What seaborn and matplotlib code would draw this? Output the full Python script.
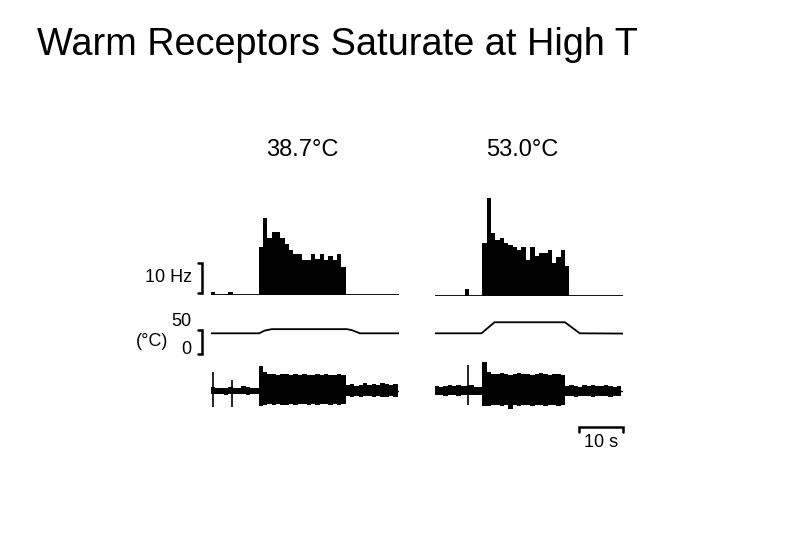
import numpy as np
import pandas as pd
import matplotlib
matplotlib.use("Agg")
import matplotlib.pyplot as plt
import seaborn as sns

sns.set_style("white")
plt.rcParams['font.family'] = ['Liberation Sans', 'DejaVu Sans']
plt.rcParams['text.color'] = 'black'

# ---- data ----
stim_labels = ["38.7°C", "53.0°C"]
duration = 43.3  # s shown per panel

# firing rate histograms, 1 s bins (Hz)
pre_bins_left = [0, 4]
pre_rates_left = [1.1, 1.1]
main_start_left = 11
rates_left = [15.9, 25.6, 18.9, 21.1, 21.1, 18.9, 17.0, 15.0, 13.7, 13.7,
              11.8, 11.8, 13.7, 12.0, 13.7, 11.8, 12.9, 11.8, 13.7, 9.4]

pre_bins_right = [7]
pre_rates_right = [2.2]
main_start_right = 11
rates_right = [17.6, 32.6, 20.9, 18.7, 19.4, 17.6, 17.0, 16.2, 15.3, 16.2,
               12.0, 16.2, 13.3, 14.2, 14.2, 15.3, 11.1, 13.1, 15.3, 10.0]

# skin temperature (°C)
temp_t_left = [0, 11.1, 12.3, 14.0, 31.3, 32.5, 34.3, 43.3]
temp_left = [30, 30, 35.5, 38.7, 38.7, 36.5, 30, 30]
temp_t_right = [0, 10.8, 13.8, 30.0, 33.4, 43.3]
temp_right = [30, 30, 53.0, 53.0, 30, 29.5]

# nerve recording envelope, one value per second (arbitrary units)
trace_up_left = [4, 3, 3, 3, 4, 3, 3, 5, 4, 3, 3,
                 25, 19, 17, 17, 16, 17, 17, 16, 17, 16, 17, 16, 16, 17, 16, 17, 16, 16, 17, 16,
                 6, 7, 5, 6, 8, 6, 7, 6, 8, 7, 6, 7, 7]
trace_lo_left = [3, 3, 3, 4, 3, 3, 3, 3, 4, 3, 3,
                 15, 14, 13, 14, 13, 14, 14, 13, 14, 13, 13, 14, 13, 14, 13, 13, 14, 13, 14, 13,
                 5, 6, 5, 6, 5, 5, 6, 5, 6, 6, 5, 6, 6]
spike_t_left = [0.5, 4.8]
spike_up_left = [19, 11]
spike_lo_left = [16, 16]

trace_up_right = [5, 4, 5, 6, 5, 6, 5, 5, 6, 4, 4,
                  29, 19, 17, 17, 18, 17, 16, 17, 18, 17, 17, 16, 17, 18, 17, 16, 17, 17, 16,
                  5, 6, 5, 4, 6, 5, 6, 5, 5, 6, 5, 4, 5, 5]
trace_lo_right = [4, 4, 5, 4, 4, 5, 4, 4, 4, 4, 4,
                  15, 15, 14, 14, 15, 14, 18, 14, 15, 14, 14, 15, 14, 14, 15, 14, 14, 15, 14,
                  5, 5, 6, 5, 5, 5, 6, 5, 5, 5, 6, 5, 5, 5]
spike_t_right = [7.6]
spike_up_right = [26]
spike_lo_right = [14]

# scale bars
rate_bar = 10   # Hz
temp_bar = 50   # °C
time_bar = 10   # s

# ---- layout helpers (pixel boxes on an 810x540 canvas) ----
W, H = 810, 540
fig = plt.figure(figsize=(W / 100, H / 100), dpi=100)


def px_axes(x0, y0, x1, y1):
    ax = fig.add_axes([x0 / W, 1 - y1 / H, (x1 - x0) / W, (y1 - y0) / H])
    ax.set_axis_off()
    return ax


def px_text(x, y, s, **kw):
    fig.text(x / W, 1 - y / H, s, color="black", **kw)


panel_x = [(211, 399), (434.5, 622.8)]

hist_axes, temp_axes, trace_axes = [], [], []
for i, (x0, x1) in enumerate(panel_x):
    base = 295 if i == 0 else 296
    hist_axes.append(px_axes(x0, base - 110, x1, base))
    temp_axes.append(px_axes(x0, 300, x1, 360))
    trace_axes.append(px_axes(x0, 350.7, x1, 430.7))

hist_data = [
    (pre_bins_left, pre_rates_left, main_start_left, rates_left),
    (pre_bins_right, pre_rates_right, main_start_right, rates_right),
]
for ax, (pb, pr, start, rates) in zip(hist_axes, hist_data):
    df = pd.DataFrame({
        "t": [b + 0.5 for b in pb] + [start + k + 0.5 for k in range(len(rates))],
        "rate": list(pr) + list(rates),
    })
    sns.histplot(data=df, x="t", weights="rate", binwidth=1, binrange=(0, 44), ax=ax,
                 color="black", alpha=1, linewidth=0)
    ax.plot([0, duration], [0, 0], color="black", lw=1.3)
    ax.set_xlim(0, duration)
    ax.set_ylim(0, 110 / 3)
    ax.set_axis_off()

for ax, t, temp in zip(temp_axes, [temp_t_left, temp_t_right], [temp_left, temp_right]):
    sns.lineplot(x=t, y=temp, ax=ax, color="black", lw=1.3)
    ax.set_xlim(0, duration)
    ax.set_ylim(-25.6, 99.4)
    ax.set_axis_off()

trace_data = [
    (trace_up_left, trace_lo_left, spike_t_left, spike_up_left, spike_lo_left),
    (trace_up_right, trace_lo_right, spike_t_right, spike_up_right, spike_lo_right),
]
for ax, (up, lo, st, su, sl) in zip(trace_axes, trace_data):
    t = np.arange(len(up))
    ax.fill_between(t, up, -np.array(lo), step="post", color="black", lw=0)
    ax.vlines(st, -np.array(sl), su, color="black", lw=1.2)
    ax.plot([0, duration], [0, 0], color="black", lw=1.0)
    ax.set_xlim(0, duration)
    ax.set_ylim(-40, 40)

# scale bars
bx, tick = -2.14, -0.8
ax = hist_axes[0]
ax.plot([bx + tick, bx, bx, bx + tick], [0.67, 0.67, 0.67 + rate_bar, 0.67 + rate_bar],
        color="black", lw=1.8, clip_on=False, solid_joinstyle="miter")
ax = temp_axes[0]
ax.plot([bx + tick, bx, bx, bx + tick], [-13.1, -13.1, -13.1 + temp_bar, -13.1 + temp_bar],
        color="black", lw=1.8, clip_on=False, solid_joinstyle="miter")
ax = trace_axes[1]
ax.plot([duration - time_bar, duration - time_bar, duration, duration], [-41.5, -36, -36, -41.5],
        color="black", lw=1.8, clip_on=False, solid_joinstyle="miter")

# text
px_text(37, 45, "Warm Receptors Saturate at High T", fontsize=27.3, ha="left", va="center")
px_text(302, 150, stim_labels[0], fontsize=17, ha="center", va="center")
px_text(522.5, 150, stim_labels[1], fontsize=17, ha="center", va="center")
px_text(191.7, 278, "10 Hz", fontsize=13, ha="right", va="center")
px_text(168.3, 341.7, "(°C)", fontsize=13, ha="right", va="center")
px_text(191.7, 321.7, "50", fontsize=13, ha="right", va="center")
px_text(191.7, 350, "0", fontsize=13, ha="right", va="center")
px_text(600.8, 442.3, "10 s", fontsize=13, ha="center", va="center")

fig.savefig("out.png", dpi=100, facecolor="white")
